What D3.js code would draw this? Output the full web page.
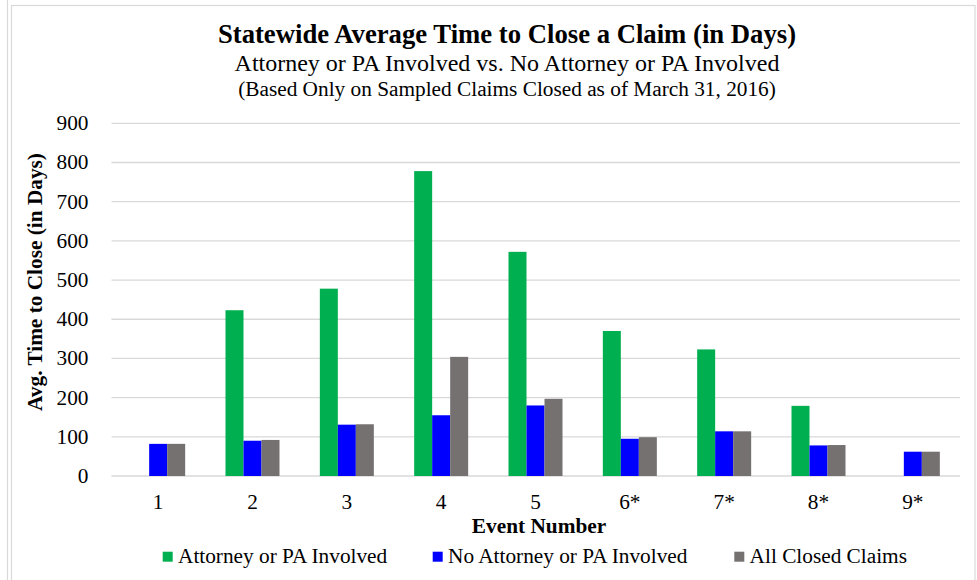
<!DOCTYPE html>
<html>
<head>
<meta charset="utf-8">
<script src="https://cdn.jsdelivr.net/npm/d3@7"></script>
<style>
  html, body { margin: 0; padding: 0; background: #ffffff; }
  svg { display: block; }
  text { font-family: "Liberation Serif", "Times New Roman", serif; fill: #000; }
</style>
</head>
<body>
<div id="chart"></div>
<script>
// ---- data ----
const categories = ["1", "2", "3", "4", "5", "6*", "7*", "8*", "9*"];
const seriesNames = ["Attorney or PA Involved", "No Attorney or PA Involved", "All Closed Claims"];
const attorneyInvolved = [null, 423, 478, 778, 572, 370, 323, 179, null];
const noAttorneyInvolved = [82, 90, 131, 155, 180, 95, 114, 78, 62];
const allClosedClaims = [82, 92, 132, 304, 197, 99, 114, 79, 62];
const yTicks = [0, 100, 200, 300, 400, 500, 600, 700, 800, 900];
const seriesColors = ["#00B050", "#0000FF", "#767171"];

const titleText = "Statewide Average Time to Close a Claim (in Days)";
const subtitleText = "Attorney or PA Involved vs. No Attorney or PA Involved";
const noteText = "(Based Only on Sampled Claims Closed as of March 31, 2016)";
const xTitle = "Event Number";
const yTitle = "Avg. Time to Close (in Days)";

const W = 977, H = 580;
const svg = d3.select("#chart").append("svg").attr("width", W).attr("height", H);

// frame
svg.append("line").attr("x1", 7.5).attr("x2", 7.5).attr("y1", 0).attr("y2", H)
  .attr("stroke", "#d9d9d9").attr("stroke-width", 1.2);
svg.append("rect").attr("x", 11.5).attr("y", 5.5).attr("width", 963.5).attr("height", H)
  .attr("fill", "none").attr("stroke", "#d9d9d9").attr("stroke-width", 1.2);

const x0 = d3.scaleBand().domain(categories).range([111, 960]).paddingInner(0).paddingOuter(0);
const y = d3.scaleLinear().domain([0, 900]).range([476, 123.3]);
const groupW = x0.bandwidth() * 0.5725;
const x1 = d3.scaleBand().domain(seriesNames).range([0, groupW]).padding(0);

// gridlines
svg.append("g").selectAll("line").data(yTicks).join("line")
  .attr("x1", 111.5).attr("x2", 960)
  .attr("y1", d => y(d)).attr("y2", d => y(d))
  .attr("stroke", "#d9d9d9").attr("stroke-width", 1.3);

// y axis labels
svg.append("g").selectAll("text").data(yTicks).join("text")
  .attr("x", 88.5).attr("y", d => y(d) + 7)
  .attr("text-anchor", "end").attr("font-size", "21.3px")
  .text(d => d);

// x axis labels
svg.append("g").selectAll("text").data(categories).join("text")
  .attr("x", d => x0(d) + x0.bandwidth() / 2).attr("y", 509)
  .attr("text-anchor", "middle").attr("font-size", "21.3px")
  .text(d => d);

// bars
const allSeries = [attorneyInvolved, noAttorneyInvolved, allClosedClaims];
const rows = [];
categories.forEach((c, i) => {
  seriesNames.forEach((s, j) => {
    const v = allSeries[j][i];
    if (v !== null && v !== undefined) rows.push({ c, s, v, j });
  });
});
svg.append("g").selectAll("rect").data(rows).join("rect")
  .attr("x", d => x0(d.c) + (x0.bandwidth() - groupW) / 2 + x1(d.s))
  .attr("width", x1.bandwidth())
  .attr("y", d => y(d.v))
  .attr("height", d => y(0) - y(d.v))
  .attr("fill", d => seriesColors[d.j]);

// titles
svg.append("text").attr("x", 507).attr("y", 43).attr("text-anchor", "middle")
  .attr("font-size", "26.7px").attr("font-weight", "bold").text(titleText);
svg.append("text").attr("x", 507).attr("y", 70.5).attr("text-anchor", "middle")
  .attr("font-size", "24px").text(subtitleText);
svg.append("text").attr("x", 507).attr("y", 95.5).attr("text-anchor", "middle")
  .attr("font-size", "21.3px").text(noteText);

// axis titles
svg.append("text").attr("x", 539).attr("y", 533).attr("text-anchor", "middle")
  .attr("font-size", "21.3px").attr("font-weight", "bold").text(xTitle);
svg.append("text").attr("transform", "translate(42,282) rotate(-90)")
  .attr("text-anchor", "middle").attr("font-size", "21.3px").attr("font-weight", "bold")
  .text(yTitle);

// legend
const legendX = [162.7, 432.7, 734.3];
const lg = svg.append("g").selectAll("g").data(seriesNames).join("g")
  .attr("transform", (d, i) => `translate(${legendX[i]},0)`);
lg.append("rect").attr("x", 0).attr("y", 551.7).attr("width", 10).attr("height", 10)
  .attr("fill", (d, i) => seriesColors[i]);
lg.append("text").attr("x", 15.3).attr("y", 563.3).attr("font-size", "21.3px").text(d => d);
</script>
</body>
</html>
